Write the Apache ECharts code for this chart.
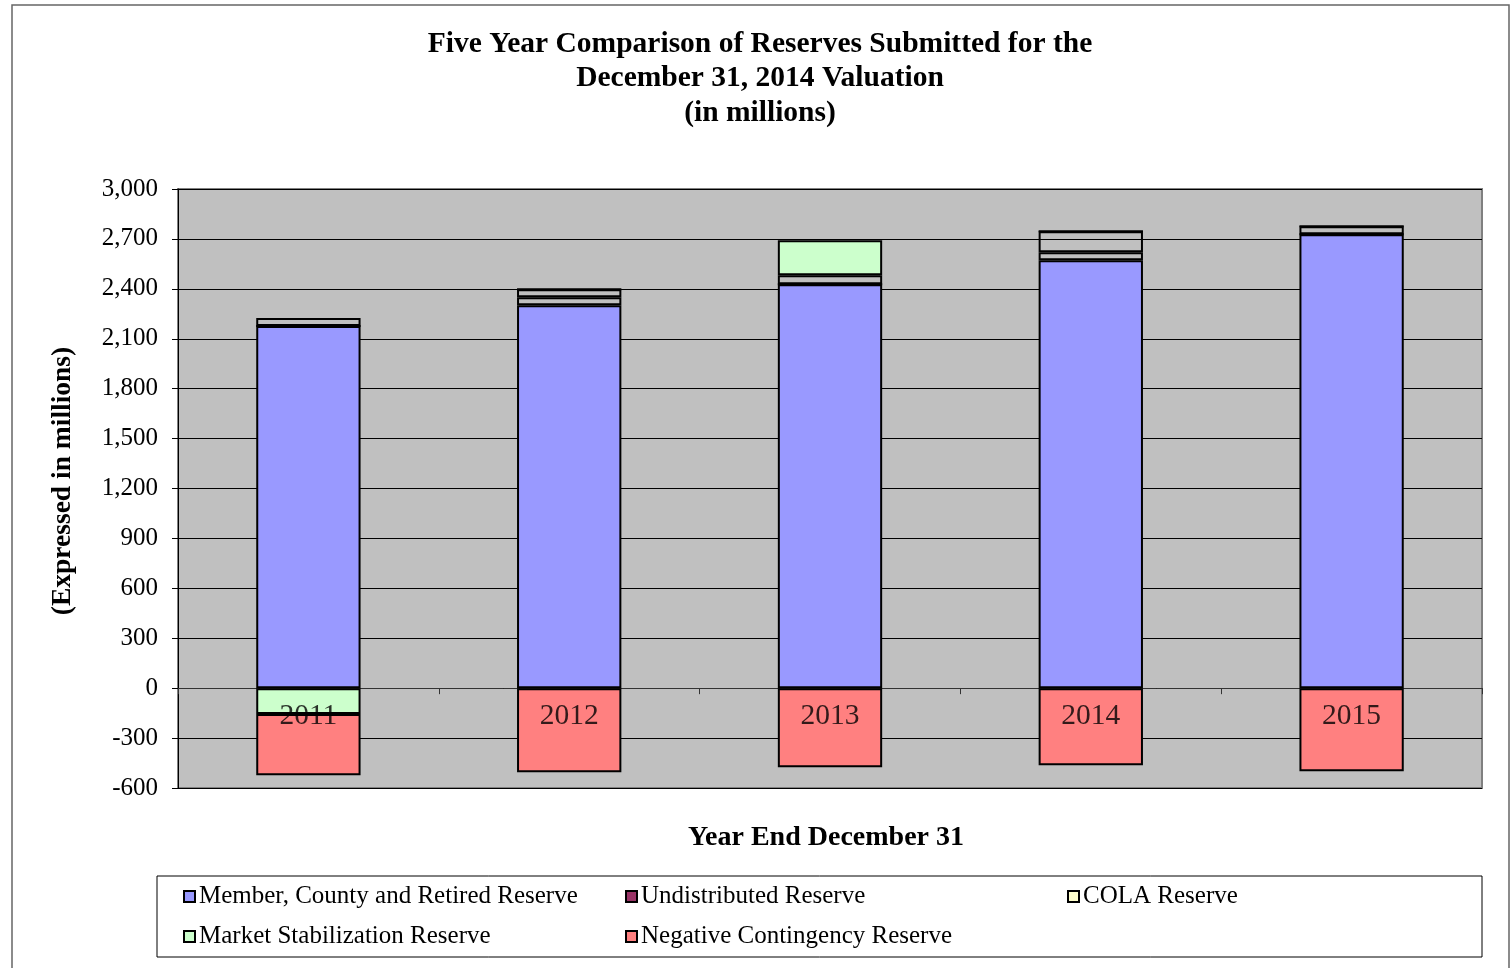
<!DOCTYPE html>
<html>
<head>
<meta charset="utf-8">
<script src="https://cdn.jsdelivr.net/npm/echarts@6/dist/echarts.min.js"></script>
<style>html,body{margin:0;padding:0;background:#fff}#c{width:1512px;height:968px}</style>
</head>
<body>
<div id="c"></div>
<script>
var categories = ['2011', '2012', '2013', '2014', '2015'];
var memberReserve = [2176, 2302, 2428, 2572, 2728];
var undistributedReserve = [0, 48, 0, 48, 0];
var colaReserve = [48, 48, 54, 126, 48];
var marketStabilization = [-156, 0, 210, 0, 0];
var negativeContingency = [-367, -505, -475, -463, -499];
var yTicks = [-600, -300, 0, 300, 600, 900, 1200, 1500, 1800, 2100, 2400, 2700, 3000];

var FONT = 'Liberation Serif, Times New Roman, serif';
var chart = echarts.init(document.getElementById('c'));

function bar(name, data, fill) {
  return {
    name: name, type: 'bar', stack: 'total', data: data, barWidth: '40%',
    itemStyle: { color: fill, borderColor: '#000', borderWidth: 2 },
    emphasis: { disabled: true }
  };
}

var legendItems = [
  { name: 'Member, County and Retired Reserve', color: '#9999FF', left: 183, top: 884 },
  { name: 'Undistributed Reserve', color: '#993366', left: 625, top: 884 },
  { name: 'COLA Reserve', color: '#FFFFCC', left: 1067, top: 884 },
  { name: 'Market Stabilization Reserve', color: '#CCFFCC', left: 183, top: 924 },
  { name: 'Negative Contingency Reserve', color: '#FF8080', left: 625, top: 924 }
];

var legends = legendItems.map(function (it) {
  return {
    left: it.left, top: it.top, padding: 0, orient: 'horizontal', itemWidth: 11, itemHeight: 11, itemGap: 0,
    icon: 'rect', selectedMode: false,
    textStyle: { fontFamily: FONT, fontSize: 25, color: '#000', padding: [0, 0, 0, -1] },
    data: [{ name: it.name, itemStyle: { color: it.color, borderColor: '#000', borderWidth: 2 } }]
  };
});

chart.setOption({
  animation: false,
  backgroundColor: '#fff',
  title: [{
    text: 'Five Year Comparison of Reserves Submitted for the\nDecember 31, 2014 Valuation\n(in millions)',
    left: 755, top: 22, textAlign: 'center',
    textStyle: { fontFamily: FONT, fontSize: 29.5, fontWeight: 'bold', color: '#000', lineHeight: 34.5 }
  }, {
    text: 'Year End December 31',
    left: 821, top: 819, textAlign: 'center',
    textStyle: { fontFamily: FONT, fontSize: 28, fontWeight: 'bold', color: '#000' }
  }],
  legend: legends,
  graphic: [
    { type: 'rect', shape: { x: 12, y: 5, width: 1497, height: 970 }, style: { fill: 'none', stroke: '#666', lineWidth: 1.5 }, silent: true, z: -10 },
    { type: 'rect', shape: { x: 157, y: 876, width: 1325, height: 81 }, style: { fill: 'none', stroke: '#000', lineWidth: 1 }, silent: true },
    { type: 'text', x: 63, y: 481, rotation: Math.PI / 2, silent: true,
      style: { text: '(Expressed in millions)', font: 'bold 27.5px ' + FONT, fill: '#000', align: 'center', verticalAlign: 'middle' } }
  ],
  grid: {
    left: 178, top: 189, width: 1304, height: 599,
    show: true, backgroundColor: '#C0C0C0', borderColor: '#808080', borderWidth: 2
  },
  xAxis: {
    type: 'category', data: categories,
    axisLine: { onZero: true, lineStyle: { color: '#333', width: 1 } },
    axisTick: { show: true, alignWithLabel: false, length: 6, lineStyle: { color: '#333' } },
    axisLabel: { show: false }
  },
  yAxis: {
    type: 'value', min: -600, max: 3000, interval: 300,
    axisLine: { show: true, lineStyle: { color: '#000', width: 1 } },
    axisTick: { show: true, length: 6, lineStyle: { color: '#000' } },
    splitLine: { show: true, lineStyle: { color: '#000', width: 1 } },
    axisLabel: {
      fontFamily: FONT, fontSize: 25, color: '#000', margin: 20,
      formatter: function (v) { return yTicks.indexOf(v) >= 0 ? v.toLocaleString('en-US') : ''; }
    }
  },
  series: [
    bar('Member, County and Retired Reserve', memberReserve, '#9999FF'),
    bar('Undistributed Reserve', undistributedReserve, 'rgba(0,0,0,0)'),
    bar('COLA Reserve', colaReserve, 'rgba(0,0,0,0)'),
    bar('Market Stabilization Reserve', marketStabilization, '#CCFFCC'),
    bar('Negative Contingency Reserve', negativeContingency, '#FF8080'),
    {
      name: 'xlabels', type: 'scatter', z: 20, silent: true,
      data: categories.map(function () { return 0; }),
      symbol: 'circle', symbolSize: 1, itemStyle: { color: 'rgba(0,0,0,0)' },
      label: {
        show: true, position: 'bottom', distance: 13,
        fontFamily: FONT, fontSize: 29.5, color: '#000',
        formatter: function (p) { return categories[p.dataIndex]; }
      }
    }
  ]
});
</script>
</body>
</html>
